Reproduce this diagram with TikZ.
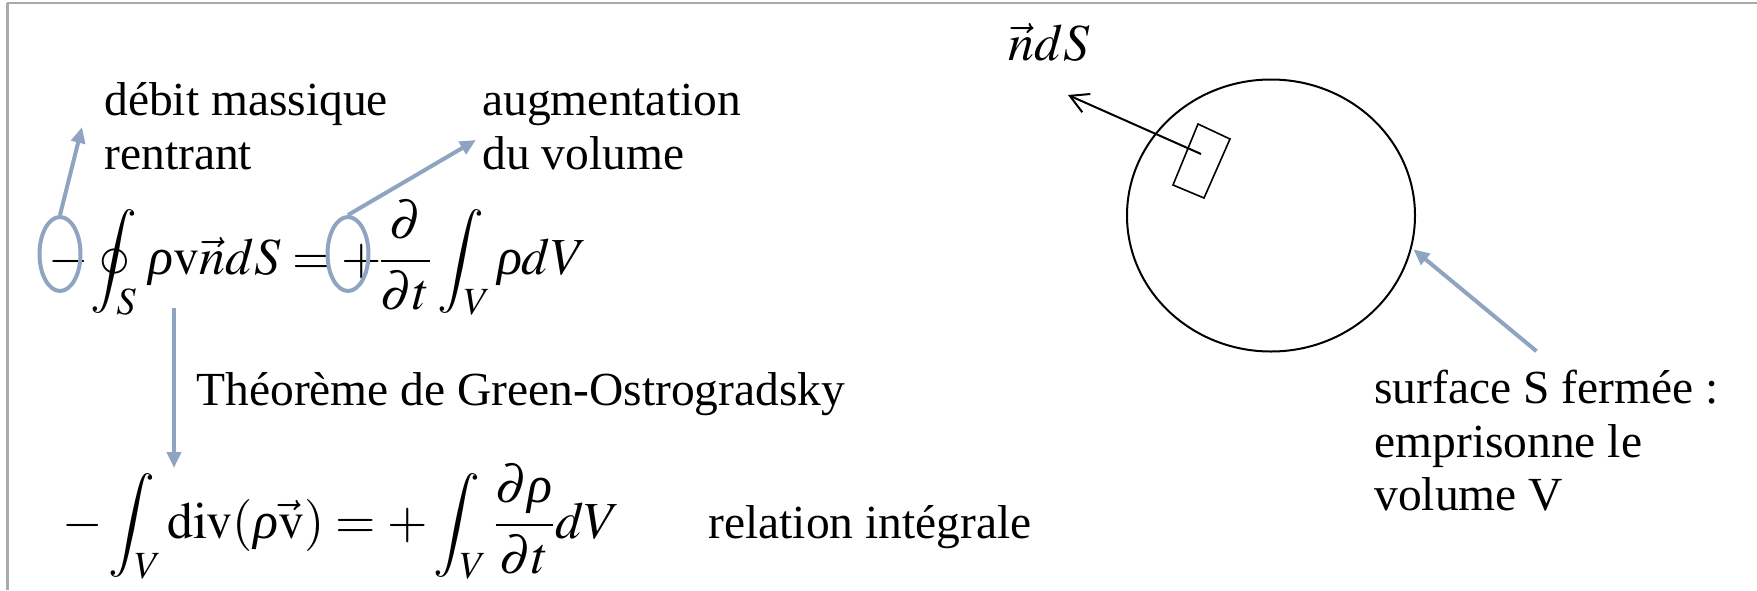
\documentclass[tikz,border=0pt]{standalone}
\usepackage{mathptmx}
\usepackage{fontspec}
\setmainfont{Liberation Serif}
\usetikzlibrary{shapes.geometric,arrows.meta,calc}
\definecolor{bluegray}{RGB}{143,164,193}
\definecolor{framegray}{RGB}{170,170,170}
\newcommand{\rh}{\textit{ρ}}
\tikzset{
  lbl/.style={inner sep=0pt, anchor=base west, font=\fontsize{23.75pt}{27pt}\selectfont},
  eq/.style={inner sep=0pt, anchor=base west, font=\fontsize{26pt}{30pt}\selectfont},
  ring/.style={ellipse, draw=bluegray, line width=2pt, minimum width=20.5pt, minimum height=37pt, inner sep=0pt},
  pointer/.style={draw=bluegray, line width=2pt, -{Triangle[length=8pt,width=7pt]}},
  frameline/.style={draw=framegray, line width=1.25pt},
}
\begin{document}
\begin{tikzpicture}[x=0.5pt,y=-0.5pt]
\useasboundingbox (0,0) rectangle (1757,590);
\draw[frameline] (7,3) -- (1757,3);
\draw[frameline] (7.5,3) -- (7.5,590);

% top labels
\node[lbl] (dA) at (104,115) {débit massique};
\node[lbl] (dB) at (104,169) {rentrant};
\node[lbl] (aA) at (482,115) {augmentation};
\node[lbl] (aB) at (482,169) {du volume};

% top equation
\node[eq] (em) at (48,274) {$-$};
\node[eq] (el) at (90,274) {$\displaystyle\oint_S\,\rh\mathrm{v}\vec{n}dS=$};
\node[eq] (ep) at (341,274) {$+$};
\node[eq] (er) at (378,274) {$\displaystyle\frac{\partial}{\partial t}\int_V \rh dV$};
\node[ring] (r1) at (60,254) {};
\node[ring] (r2) at (348,254) {};
\coordinate (t1) at (82,127);
\coordinate (t2) at (476,140);
\draw[pointer] (r1.north) -- (t1);
\draw[pointer] (r2.north) -- (t2);

% Green-Ostrogradsky
\coordinate (v1) at (174,308);
\coordinate (v2) at (174,468);
\draw[pointer] (v1) -- (v2);
\node[lbl] (gr) at (196,405) {Théorème de Green-Ostrogradsky};

% bottom equation
\node[eq] (eb) at (62,538) {$\displaystyle -\int_V \mathrm{div}(\rh\vec{\mathrm{v}}) = +\int_V \frac{\partial\rh}{\partial t}dV$};
\node[lbl] (rel) at (708,538) {relation intégrale};

% surface
\node[draw, ellipse, line width=1pt, minimum width=144pt, minimum height=136pt, inner sep=0pt] (surf) at (1271,215.5) {};
\draw[line width=0.8pt] (1198,124) -- (1230,139) -- (1204,198) -- (1173,185) -- cycle;
\coordinate (nS) at (1201,154);
\coordinate (nE) at (1068,95);
\draw[line width=1pt, -{Straight Barb[length=9pt,width=10pt]}] (nS) -- (nE);
\node[eq] (nds) at (1008,60) {$\vec{n}dS$};

\node[lbl] (s1) at (1374,403) {surface S fermée :};
\node[lbl] (s2) at (1374,457) {emprisonne le};
\node[lbl] (s3) at (1374,510) {volume V};
\draw[pointer, shorten >=1pt] ($(s1.north)+(-10,-18)$) -- (surf.-13);
\end{tikzpicture}
\end{document}
